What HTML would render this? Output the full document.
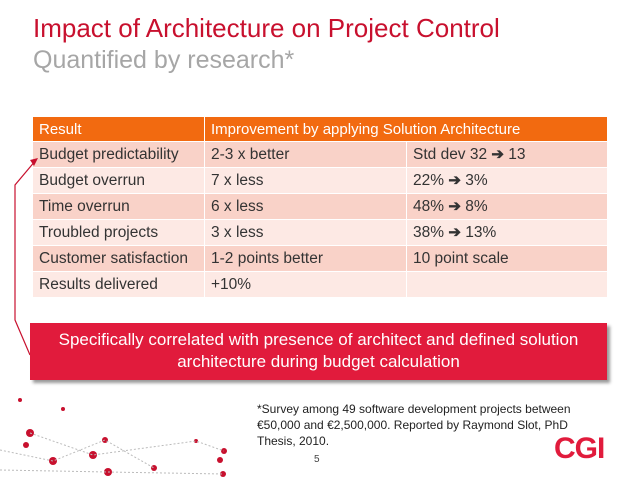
<!DOCTYPE html>
<html><head><meta charset="utf-8"><style>
body{margin:0;width:638px;height:479px;background:#fff;position:relative;overflow:hidden;font-family:"Liberation Sans",sans-serif}
.t{position:absolute;left:33px;top:13px;font-size:26px;color:#c8102e}
.s{position:absolute;left:33px;top:46px;font-size:25px;color:#a6a6a6}
table{position:absolute;left:32px;top:116px;border-collapse:collapse;font-size:15.5px;color:#333}
td{height:26px;padding:0 0 0 6px;border:1px solid #fff;box-sizing:border-box;white-space:nowrap}
tr.h td{background:#f26a10;color:#fff;height:25px;font-size:15px}
tr.a td{background:#f9d2c8}
tr.b td{background:#fde9e4}
.ar{font-weight:bold;font-size:15px}
.box{position:absolute;left:30px;top:323px;width:577px;height:57px;background:#e11b3c;color:#fff;font-size:17px;text-align:center;line-height:22px;padding-top:6px;box-sizing:border-box;box-shadow:3px 3px 3px #999}
.n{position:absolute;left:257px;top:401px;font-size:12px;color:#222;line-height:16px;width:330px}
.p{position:absolute;left:314px;top:454px;font-size:10px;color:#444}
.c{position:absolute;left:554px;top:432px;font-size:30px;font-weight:bold;color:#e11b3c;letter-spacing:-1px}
</style></head><body>
<div class="t">Impact of Architecture on Project Control</div>
<div class="s">Quantified by research*</div>
<table>
<tr class="h"><td style="width:172px">Result</td><td colspan="2">Improvement by applying Solution Architecture</td></tr>
<tr class="a"><td>Budget predictability</td><td style="width:202px">2-3 x better</td><td style="width:201px">Std dev 32 <span class="ar">➔</span> 13</td></tr>
<tr class="b"><td>Budget overrun</td><td>7 x less</td><td>22% <span class="ar">➔</span> 3%</td></tr>
<tr class="a"><td>Time overrun</td><td>6 x less</td><td>48% <span class="ar">➔</span> 8%</td></tr>
<tr class="b"><td>Troubled projects</td><td>3 x less</td><td>38% <span class="ar">➔</span> 13%</td></tr>
<tr class="a"><td>Customer satisfaction</td><td>1-2 points better</td><td>10 point scale</td></tr>
<tr class="b"><td>Results delivered</td><td>+10%</td><td></td></tr>
</table>
<svg style="position:absolute;left:0;top:0" width="638" height="479">
<polyline points="30,355 15,320 15,185 36,160" fill="none" stroke="#c8102e" stroke-width="1.2"/>
<polygon points="38,158 30,160 34,166" fill="#c8102e"/>
<g fill="#c8102e"><circle cx="26" cy="445" r="3"/><circle cx="30" cy="433" r="4"/><circle cx="53" cy="461" r="4"/><circle cx="93" cy="455" r="4"/><circle cx="105" cy="440" r="3"/><circle cx="154" cy="468" r="3"/><circle cx="196" cy="441" r="2"/><circle cx="224" cy="451" r="3"/><circle cx="20" cy="400" r="2"/><circle cx="63" cy="409" r="2"/><circle cx="108" cy="472" r="4"/><circle cx="223" cy="474" r="3"/><circle cx="220" cy="460" r="3"/></g>
<g stroke="#bbb" stroke-dasharray="2,2" fill="none"><path d="M0,450 L53,461 L105,440 L154,468 M30,433 L93,455 L196,441 L224,451 M0,470 L108,472 L223,474"/></g>
</svg>
<div class="box">Specifically correlated with presence of architect and defined solution<br>architecture during budget calculation</div>
<div class="n">*Survey among 49 software development projects between €50,000 and €2,500,000. Reported by Raymond Slot, PhD Thesis, 2010.</div>
<div class="p">5</div>
<div class="c">CGI</div>
</body></html>
